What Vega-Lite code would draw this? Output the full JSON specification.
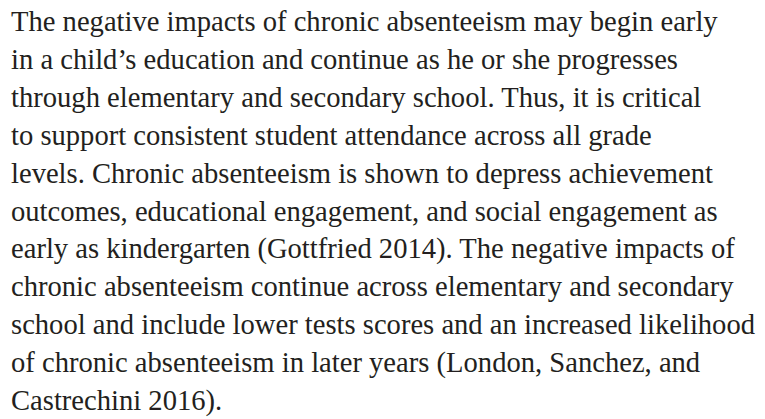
{
  "$schema": "https://vega.github.io/schema/vega-lite/v6.json",
  "width": 765,
  "height": 419,
  "autosize": {"type": "fit", "contains": "padding"},
  "padding": 0,
  "background": "white",
  "config": {"view": {"stroke": null}},
  "data": {
    "values": [
      {"line": 1, "text": "The negative impacts of chronic absenteeism may begin early"},
      {"line": 2, "text": "in a child’s education and continue as he or she progresses"},
      {"line": 3, "text": "through elementary and secondary school. Thus, it is critical"},
      {"line": 4, "text": "to support consistent student attendance across all grade"},
      {"line": 5, "text": "levels. Chronic absenteeism is shown to depress achievement"},
      {"line": 6, "text": "outcomes, educational engagement, and social engagement as"},
      {"line": 7, "text": "early as kindergarten (Gottfried 2014). The negative impacts of"},
      {"line": 8, "text": "chronic absenteeism continue across elementary and secondary"},
      {"line": 9, "text": "school and include lower tests scores and an increased likelihood"},
      {"line": 10, "text": "of chronic absenteeism in later years (London, Sanchez, and"},
      {"line": 11, "text": "Castrechini 2016)."}
    ]
  },
  "mark": {
    "type": "text",
    "align": "left",
    "baseline": "alphabetic",
    "font": "Liberation Serif",
    "fontSize": 28.6,
    "color": "#231f20"
  },
  "encoding": {
    "x": {"datum": 0, "type": "quantitative", "scale": {"domain": [-11, 754], "nice": false, "zero": false}, "axis": null},
    "y": {"field": "line", "type": "quantitative", "scale": {"domain": [0.182, 11.237], "reverse": true, "nice": false, "zero": false}, "axis": null},
    "text": {"field": "text"}
  }
}
